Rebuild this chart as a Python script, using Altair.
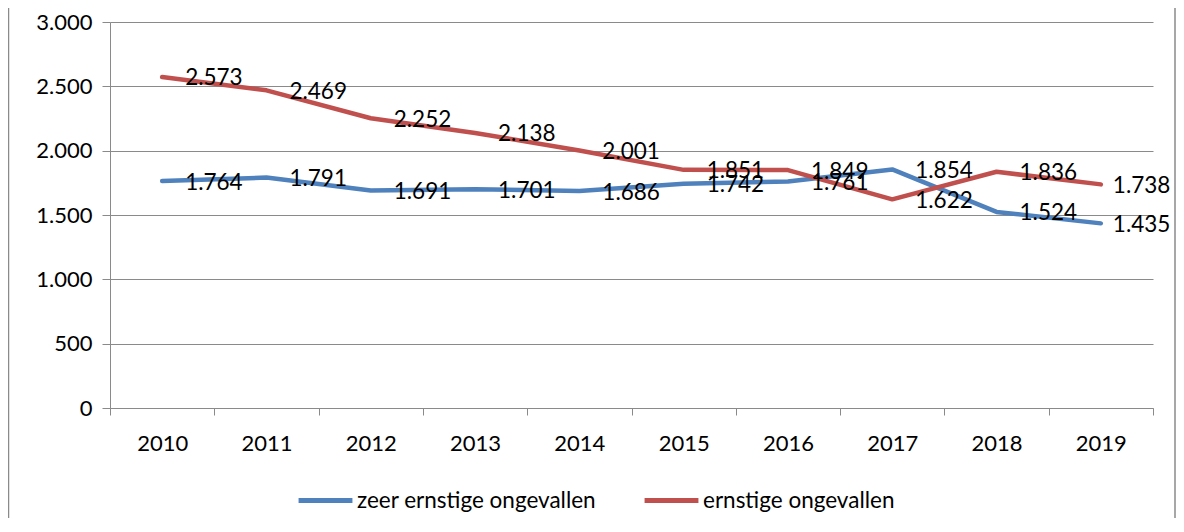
import altair as alt
import pandas as pd

years = ["2010", "2011", "2012", "2013", "2014", "2015", "2016", "2017", "2018", "2019"]
zeer_ernstig = [1764, 1791, 1691, 1701, 1686, 1742, 1761, 1854, 1524, 1435]
ernstig = [2573, 2469, 2252, 2138, 2001, 1851, 1849, 1622, 1836, 1738]
series_names = ["zeer ernstige ongevallen", "ernstige ongevallen"]
series_colors = ["#4F81BD", "#C0504D"]
y_ticks = [0, 500, 1000, 1500, 2000, 2500, 3000]

rows = []
for name, vals in zip(series_names, [zeer_ernstig, ernstig]):
    for yr, v in zip(years, vals):
        rows.append({"jaar": yr, "serie": name, "aantal": v})
df = pd.DataFrame(rows)

FONT = "Lato"
GRAY = "#8a8a8a"
W, H = 1043, 386

x_enc = alt.X("jaar:O", sort=years, bandPosition=0.5,
              scale=alt.Scale(type="band", paddingInner=0, paddingOuter=0),
              axis=alt.Axis(title=None, labelAngle=0, tickBand="extent", tickSize=7,
                            tickColor=GRAY, domainColor=GRAY, labelPadding=18,
                            labelFontSize=22, labelFont=FONT, labelColor="black",
                            grid=False))
y_enc = alt.Y("aantal:Q", scale=alt.Scale(domain=[0, 3000], nice=False),
              axis=alt.Axis(title=None, values=y_ticks, grid=True, gridColor=GRAY,
                            tickSize=8, tickColor=GRAY, domainColor=GRAY,
                            labelPadding=10, labelFontSize=22, labelFont=FONT,
                            labelColor="black",
                            labelExpr="replace(format(datum.value, ','), ',', '.')"))

frame = alt.Chart(pd.DataFrame({"k": [0]})).mark_rect(
    fill=None, stroke=GRAY, strokeWidth=1.5
).encode(x=alt.value(-101.5), x2=alt.value(W + 22), y=alt.value(-40), y2=alt.value(H + 300))

lines = alt.Chart(df).mark_line(strokeWidth=4.5, strokeCap="round", strokeJoin="round").encode(
    x=x_enc, y=y_enc,
    color=alt.Color("serie:N",
                    scale=alt.Scale(domain=series_names, range=series_colors),
                    legend=alt.Legend(title=None, orient="none", direction="horizontal",
                                      legendX=186, legendY=449, symbolType="stroke",
                                      symbolSize=2900, symbolStrokeWidth=5,
                                      labelFont=FONT, labelFontSize=22.5, labelColor="black",
                                      labelOffset=2, columnPadding=37, labelLimit=400)),
    detail="serie:N",
)

base_text = alt.Chart(df).transform_calculate(
    lab="replace(format(datum.aantal, ','), ',', '.')"
)
labels = base_text.transform_filter("datum.jaar != '2019'").mark_text(
    align="left", baseline="middle", dx=23, dy=1.5, font=FONT, fontSize=22.5, color="black"
).encode(x=alt.X("jaar:O", sort=years, bandPosition=0.5), y="aantal:Q", text="lab:N")
labels_last = base_text.transform_filter("datum.jaar == '2019'").mark_text(
    align="left", baseline="middle", dx=12, dy=1.5, font=FONT, fontSize=22.5, color="black"
).encode(x=alt.X("jaar:O", sort=years, bandPosition=0.5), y="aantal:Q", text="lab:N")

chart = alt.layer(frame, lines, labels, labels_last).properties(
    width=W, height=H,
    autosize=alt.AutoSizeParams(type="none"),
    padding={"left": 102, "top": 14, "right": 23, "bottom": 110},
).configure_view(stroke=None)

chart.save("out.html", embed_options={"renderer": "svg", "actions": False})
